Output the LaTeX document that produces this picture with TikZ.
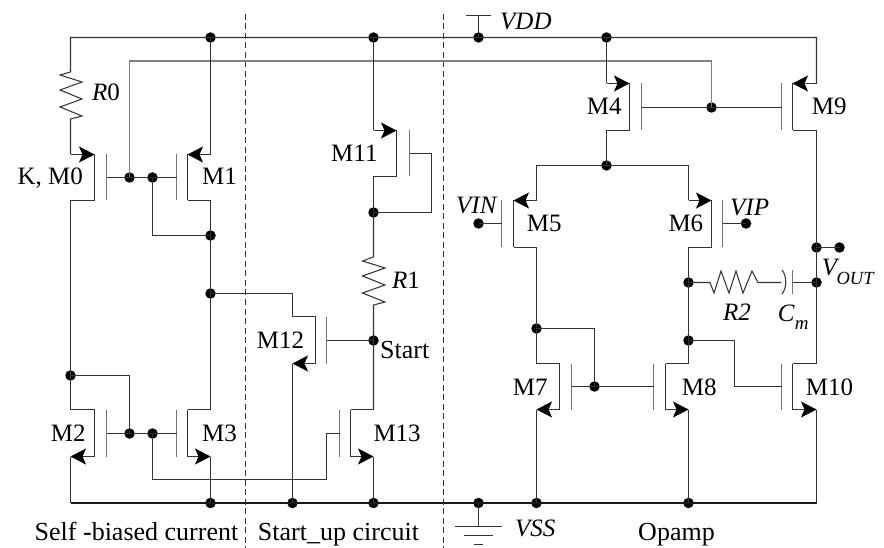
\documentclass[tikz,border=0pt]{standalone}
\usepackage{fontspec}
\setmainfont{Liberation Serif}
\usetikzlibrary{arrows.meta,calc}
\definecolor{wirec}{gray}{0.2}
\tikzset{
  x=1pt,y=-1pt,
  wire/.style={draw=wirec,line width=1.05pt,line join=miter},
  rail/.style={draw=black!90,line width=2pt},
  bus/.style={draw=black!50,line width=1.5pt},
  gatebar/.style={draw=black!55,line width=1.25pt},
  dot/.style={circle,fill=black,inner sep=0pt,minimum size=10.5pt},
  sep/.style={draw=black!80,line width=1pt,dash pattern=on 6pt off 3.5pt},
  tip/.style={draw=wirec,line width=1.05pt,-{Stealth[length=15.5pt,width=16pt,inset=3.5pt,color=black,fill=black]}},
  lab/.style={inner sep=0pt,font=\fontsize{25}{27}\selectfont},
  bw/.style={lab,anchor=base west},
  be/.style={lab,anchor=base east},
  caption/.style={inner sep=0pt,anchor=base,font=\fontsize{26}{28}\selectfont},
}
% name, rail x, channel x, bar x, top y, bottom y
\newcommand{\mosbase}[6]{%
  \coordinate (#1-t) at (#2,#5); \coordinate (#1-tc) at (#3,#5);
  \coordinate (#1-b) at (#2,#6); \coordinate (#1-bc) at (#3,#6);
  \coordinate (#1-gt) at (#4,#5); \coordinate (#1-gb) at (#4,#6);
  \coordinate (#1-g) at ($(#1-gt)!0.5!(#1-gb)$);
  \draw[gatebar] (#1-gt) -- (#1-gb);
  \draw[wire] (#1-tc) -- (#1-bc);
}
\newcommand{\pfet}[6]{\mosbase{#1}{#2}{#3}{#4}{#5}{#6}
  \draw[wire] (#1-bc) -- (#1-b);
  \draw[tip] (#1-t) -- (#1-tc);}
\newcommand{\nfet}[6]{\mosbase{#1}{#2}{#3}{#4}{#5}{#6}
  \draw[wire] (#1-t) -- (#1-tc);
  \draw[tip] (#1-bc) -- (#1-b);}
\newcommand{\subtxt}[2]{\raisebox{-9pt}{\itshape\fontsize{#1}{20}\selectfont #2}}
\begin{document}
\begin{tikzpicture}
\useasboundingbox (0,0) rectangle (884,548);
% separators
\coordinate (s1t) at (245,14); \coordinate (s1b) at (245,548);
\coordinate (s2t) at (443.7,14); \coordinate (s2b) at (443.7,548);
\draw[sep] (s1t) -- (s1b);
\draw[sep] (s2t) -- (s2b);
% transistors
\pfet{M0}{70.5}{94.5}{106.5}{154.5}{200.5}
\pfet{M1}{210.5}{187.5}{176.5}{154.5}{200.5}
\nfet{M2}{70.5}{94.5}{106.5}{409.5}{456.5}
\nfet{M3}{210.5}{187.5}{176.5}{409.5}{456.5}
\pfet{M11}{373.5}{396.5}{409.5}{130.5}{176.5}
\nfet{M12}{292.5}{315.5}{326.5}{316.5}{363.5}
\nfet{M13}{373.5}{350.5}{339.5}{409.5}{456.5}
\pfet{M4}{606.5}{629.5}{641.5}{83.5}{130.5}
\pfet{M9}{816.5}{792.5}{781.5}{83.5}{130.5}
\pfet{M5}{536.5}{513.5}{501.5}{200.5}{247.5}
\pfet{M6}{688.5}{711.5}{722.5}{200.5}{247.5}
\nfet{M7}{536.5}{559.5}{571.5}{363.5}{409.5}
\nfet{M8}{688.5}{665.5}{653.5}{363.5}{409.5}
\nfet{M10}{816.5}{792.5}{781.5}{363.5}{409.5}
% junction dots
\node[dot] (vddA) at (210.5,37.5) {};
\node[dot] (vddB) at (373.5,37.5) {};
\node[dot] (vddC) at (478.5,37.5) {};
\node[dot] (vddD) at (606.5,37.5) {};
\node[dot] (g0a) at (129.5,177.5) {};
\node[dot] (g0b) at (152.5,177.5) {};
\node[dot] (m1d) at (210.5,235.5) {};
\node[dot] (m3d) at (210.5,293.5) {};
\node[dot] (m2d) at (70.5,375.5) {};
\node[dot] (g2a) at (129.5,433.5) {};
\node[dot] (g2b) at (152.5,433.5) {};
\node[dot] (vssA) at (210.5,503) {};
\node[dot] (vssB) at (292.5,503) {};
\node[dot] (vssC) at (373.5,503) {};
\node[dot] (vssD) at (478.5,503) {};
\node[dot] (vssE) at (536.5,503) {};
\node[dot] (vssF) at (688.5,503) {};
\node[dot] (m11d) at (373.5,212.5) {};
\node[dot] (start) at (373.5,340.5) {};
\node[dot] (g4) at (711.5,107.5) {};
\node[dot] (tail) at (606.5,165.5) {};
\node[dot] (vin) at (478.5,223.5) {};
\node[dot] (vip) at (746,223.5) {};
\node[dot] (m5d) at (536.5,328.5) {};
\node[dot] (g7) at (594.5,386.5) {};
\node[dot] (m6a) at (688.5,282.5) {};
\node[dot] (m6b) at (688.5,340.5) {};
\node[dot] (outA) at (816.5,247.5) {};
\node[dot] (outB) at (839.5,247.5) {};
\node[dot] (outC) at (816.5,282.5) {};
% rails
\coordinate (vddL) at (70.5,37.5); \coordinate (vddR) at (816.5,37.5);
\coordinate (vssL) at (70.5,503); \coordinate (vssR) at (816.5,503);
\draw[wire] (M0-t) -- (70.5,119) -- (82,116) -- (60,107) -- (82,99) -- (60,90) -- (82,82) -- (60,75) -- (70.5,72) -- (vddL) -- (vddR) -- (M9-t);
\draw[rail] (vssL) -- (vssR);
% bias bus
\draw[bus] (g0a.center) -- (g0a.center |- 0,61) -- (g4.center |- 0,61) -- (g4.center);
% left branch
\draw[wire] (vddA.center) -- (M1-t);
\draw[wire] (M0-gt |- g0a) -- (g0b.center) -- (M1-gt |- g0b);
\draw[wire] (g0b.center) -- (g0b.center |- m1d) -- (m1d.center);
\draw[wire] (M1-b) -- (M3-t);
\draw[wire] (M0-b) -- (M2-t);
\draw[wire] (m2d.center) -- (g2a.center |- m2d) -- (g2a.center);
\draw[wire] (M2-gt |- g2a) -- (M3-gt |- g2a);
\draw[wire] (M2-b) -- (vssL);
\draw[wire] (M3-b) -- (vssA.center);
% start-up
\draw[wire] (m3d.center) -- (M12-t |- m3d) -- (M12-t);
\draw[wire] (M12-b) -- (vssB.center);
\draw[wire] (M12-gt |- start) -- (start.center);
\draw[wire] (vddB.center) -- (M11-t);
\draw[wire] (M11-b) -- (m11d.center);
\draw[wire] (M11-g) -- (431.5,153.5) -- (431.5,212.5) -- (m11d.center);
\draw[wire] (m11d.center) -- (373.5,257) -- (362.5,261) -- (385,268) -- (362.5,276) -- (385,285) -- (362.5,293) -- (385,302) -- (373.5,305) -- (M13-t);
\draw[wire] (M13-b) -- (vssC.center);
\draw[wire] (M13-gt |- g2b) -- (326.5,433.5) -- (326.5,479.5) -- (152.5,479.5) -- (g2b.center);
% VDD / VSS symbols
\coordinate (vddT) at (478.5,15.5);
\draw[wire] (vddC.center) -- (vddT);
\draw[wire] (466,15.5) -- (490.7,15.5);
\coordinate (gndT) at (478.5,526.5);
\draw[wire] (vssD.center) -- (gndT);
\draw[wire] (455,526.5) -- (502,526.5);
\draw[wire] (464,535.5) -- (493,535.5);
\draw[wire] (474,544.5) -- (483,544.5);
% opamp
\draw[wire] (vddD.center) -- (M4-t);
\draw[wire] (M4-gt |- g4) -- (M9-gt |- g4);
\draw[wire] (M4-b) -- (tail.center);
\draw[wire] (M5-t) -- (M5-t |- tail) -- (M6-t |- tail) -- (M6-t);
\draw[wire] (M5-gt |- vin) -- (vin.center);
\draw[wire] (M6-gt |- vip) -- (vip.center);
\draw[wire] (M5-b) -- (M7-t);
\draw[wire] (M6-b) -- (M8-t);
\draw[wire] (m5d.center) -- (g7.center |- m5d) -- (g7.center);
\draw[wire] (M7-g) -- (M8-g);
\draw[wire] (M7-b) -- (vssE.center);
\draw[wire] (M8-b) -- (vssF.center);
\draw[wire] (m6b.center) -- (734.5,340.5) -- (734.5,386.5) -- (M10-g);
\draw[wire] (M9-b) -- (M10-t);
\draw[wire] (M10-b) -- (vssR);
\draw[wire] (outA.center) -- (outB.center);
% R2 + Cm
\draw[wire] (m6a.center) -- (710,282.5) -- (714,293) -- (721,271) -- (729,293) -- (736,271) -- (743,293) -- (752,271) -- (758,282.5) -- (781,282.5);
\draw[wire] (782,270) .. controls (787,276) and (787,288) .. (782,294);
\draw[gatebar] (792.5,270) -- (792.5,294);
\draw[wire] (792.5,282.5) -- (outC.center);
% labels
\node[bw] (tR0) at (92,100.7) {\textit{R}0};
\node[be] (tM0) at (83,185) {K, M0};
\node[bw] (tM1) at (202,185) {M1};
\node[bw] (tM2) at (50.7,441.7) {M2};
\node[bw] (tM3) at (202,441.7) {M3};
\node[bw] (tM11) at (331,161.7) {M11};
\node[bw] (tR1) at (392,289) {\textit{R}1};
\node[bw] (tM12) at (256.7,348.3) {M12};
\node[bw,font=\fontsize{26}{28}\selectfont] (tStart) at (380,358.3) {Start};
\node[bw] (tM13) at (373.3,441.7) {M13};
\node[bw] (tM4) at (586.7,115) {M4};
\node[bw] (tM9) at (811.7,115) {M9};
\node[bw] (tM5) at (526.7,231.7) {M5};
\node[bw] (tM6) at (668.3,231.7) {M6};
\node[bw] (tVIN) at (456,213.3) {\textit{VIN}};
\node[bw] (tVIP) at (730,216) {\textit{VIP}};
\node[bw] (tVDD) at (500,30) {\textit{VDD}};
\node[bw] (tVSS) at (515,536.7) {\textit{VSS}};
\node[bw] (tM7) at (512.7,395) {M7};
\node[bw] (tM8) at (681.7,395) {M8};
\node[bw] (tM10) at (805.7,395) {M10};
\node[bw] (tR2) at (723,320) {\textit{R2}};
\node[bw] (tCm) at (777.7,321) {\textit{C}\subtxt{19}{m}};
\node[bw] (tOut) at (821.7,275.7) {\textit{V}\kern-3pt\subtxt{18.5}{OUT}};
\node[caption] (tSelf) at (136.5,540.7) {Self -biased current};
\node[caption] (tUp) at (338.5,540.7) {Start\_up circuit};
\node[caption] (tOp) at (676.5,540) {Opamp};
\end{tikzpicture}
\end{document}
